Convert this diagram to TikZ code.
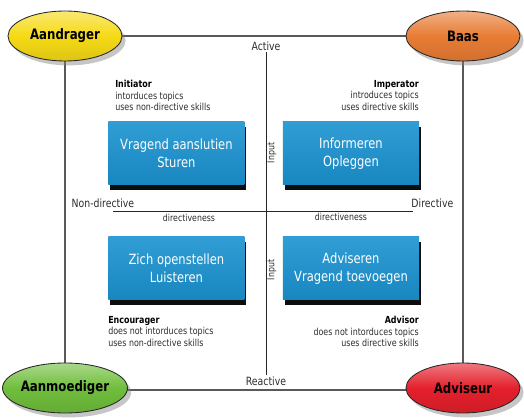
\documentclass[tikz,border=0pt]{standalone}
\usepackage{fontspec}
\setmainfont{DejaVu Sans}[FakeStretch=0.82]
\usetikzlibrary{shapes.geometric,shadows,positioning}
\definecolor{paletteYellow}{RGB}{246,218,22}
\definecolor{paletteOrange}{RGB}{232,124,52}
\definecolor{paletteGreen}{RGB}{112,190,60}
\definecolor{paletteRed}{RGB}{228,32,44}
\definecolor{paletteBlue}{RGB}{26,146,208}
\definecolor{textGrey}{RGB}{45,45,45}

\begin{document}
\begin{tikzpicture}[
  font=\small,
  roleOval/.style={ellipse, draw=black!85, line width=0.6pt, minimum width=2.85cm, minimum height=1.25cm, inner sep=0pt, font=\fontsize{10.2}{12}\selectfont\bfseries, drop shadow={shadow xshift=0.09cm, shadow yshift=-0.11cm, opacity=0.45}},
  yellowOval/.style={roleOval, top color=paletteYellow!60!white, bottom color=paletteYellow!90!black, middle color=paletteYellow},
  orangeOval/.style={roleOval, top color=paletteOrange!60!white, bottom color=paletteOrange!90!black, middle color=paletteOrange},
  greenOval/.style={roleOval, top color=paletteGreen!60!white, bottom color=paletteGreen!90!black, middle color=paletteGreen},
  redOval/.style={roleOval, top color=paletteRed!60!white, bottom color=paletteRed!90!black, middle color=paletteRed},
  boxCard/.style={top color=paletteBlue!90!white, bottom color=paletteBlue!92!black, minimum width=3.4cm, minimum height=1.575cm, inner sep=0pt, align=center, text=white, font=\fontsize{10}{12.8}\selectfont, drop shadow={shadow xshift=0.04cm, shadow yshift=-0.12cm, opacity=0.95, fill=black}},
  roleNote/.style={inner sep=0pt, font=\fontsize{6.9}{8.2}\selectfont, text=textGrey},
  axisLabel/.style={inner sep=1pt, font=\fontsize{8.1}{9.5}\selectfont, text=textGrey},
  smallLabel/.style={inner sep=1pt, font=\fontsize{6.8}{8}\selectfont, text=textGrey},
  frameLine/.style={draw=black!65, line width=1.1pt},
  axisLine/.style={draw=black!85, line width=0.7pt}
]
\useasboundingbox (-6.65,-5.175) rectangle (6.45,5.275);

% outer frame, corners carry the roles
\coordinate (cornerNW) at (-5.025,4.375);
\coordinate (cornerSE) at (4.925,-4.475);
\draw[frameLine] (cornerNW) rectangle (cornerSE);

\node[yellowOval] (aandrager) at (-5.025,4.375) {Aandrager};
\node[orangeOval] (baas) at (4.925,4.375) {Baas};
\node[greenOval] (aanmoediger) at (-5.025,-4.425) {Aanmoediger};
\node[redOval] (adviseur) at (4.925,-4.425) {Adviseur};

% axes
\node[axisLabel] (active) at (0,4.125) {Active};
\node[axisLabel] (reactive) at (0,-4.25) {Reactive};
\node[axisLabel, anchor=west] (nondir) at (-4.9,0.2) {Non-directive};
\node[axisLabel, anchor=east] (dir) at (4.725,0.2) {Directive};
\coordinate (axisW) at (-3.825,0);
\coordinate (axisE) at (3.675,0);
\draw[axisLine] (active) -- (reactive);
\draw[axisLine] (axisW) -- (axisE);

\node[smallLabel] (dirnessW) at (-1.925,-0.175) {directiveness};
\node[smallLabel] (dirnessE) at (1.875,-0.15) {directiveness};
\node[smallLabel, rotate=90] (inputN) at (0.15,1.45) {Input};
\node[smallLabel, rotate=90] (inputS) at (0.15,-1.475) {Input};

% quadrants
\node[boxCard] (vragend) at (-2.24,1.4375) {Vragend aanslutien\\Sturen};
\node[boxCard] (informeren) at (2.125,1.4375) {Informeren\\Opleggen};
\node[boxCard] (openstellen) at (-2.24,-1.4375) {Zich openstellen\\Luisteren};
\node[boxCard] (adviseren) at (2.125,-1.4375) {Adviseren\\Vragend toevoegen};

\node[roleNote, align=left, anchor=north west] (initiator) at (-3.775,3.275)
  {\textbf{\color{black}Initiator}\\intorduces topics\\uses non-directive skills};
\node[roleNote, align=right, anchor=north east] (imperator) at (3.825,3.275)
  {\textbf{\color{black}Imperator}\\introduces topics\\uses directive skills};
\node[roleNote, align=left, anchor=north west] (encourager) at (-3.95,-2.625)
  {\textbf{\color{black}Encourager}\\does not intorduces topics\\uses non-directive skills};
\node[roleNote, align=right, anchor=north east] (advisor) at (3.825,-2.625)
  {\textbf{\color{black}Advisor}\\does not intorduces topics\\uses directive skills};
\end{tikzpicture}
\end{document}
